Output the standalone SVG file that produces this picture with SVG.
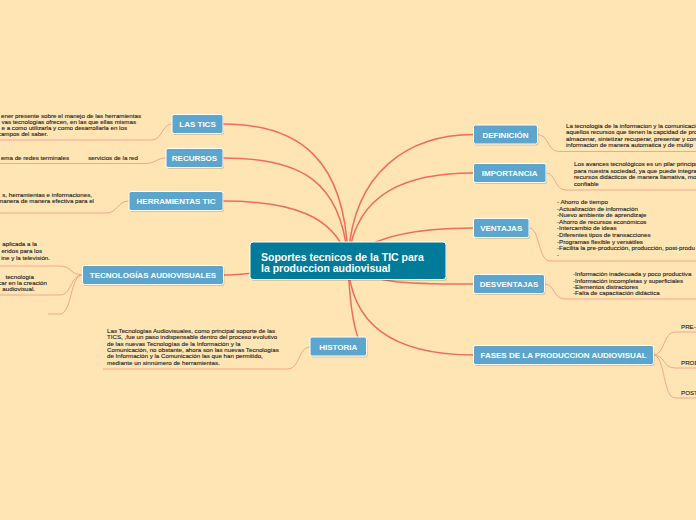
<svg xmlns="http://www.w3.org/2000/svg" width="696" height="520" viewBox="0 0 696 520">
<defs>
<style>
.main{fill:none;stroke:#F26B5B;stroke-width:1.5}
.sub{fill:none;stroke:#F6A48C;stroke-width:1}
.box{fill:#5CA5CD;stroke:#FFFFFF;stroke-width:1}
.shd{fill:#000000;opacity:0.15}
.lbl{font-family:"Liberation Sans",Arial,sans-serif;font-size:8px;font-weight:bold;fill:#FFFFFF;text-anchor:middle}
.txt{font-family:"Liberation Sans",Arial,sans-serif;font-size:6.2px;fill:#222222;stroke:#222222;stroke-width:0.12}
.end{text-anchor:end}
.ctr{font-family:"Liberation Sans",Arial,sans-serif;font-size:10.5px;font-weight:bold;fill:#FFFFFF}
</style>
</defs>
<rect width="696" height="520" fill="#FFE5B4"/>
<g id="connectors">
<path class="main" d="M348,261 C346,160 300,124 223,124"/>
<path class="main" d="M348,261 C342,180 300,158 223,158"/>
<path class="main" d="M348,261 C336,215 290,201 223,201"/>
<path class="main" d="M348,261 C300,265 260,275 223,275"/>
<path class="main" d="M348,261 C350,320 358,347 366,347"/>
<path class="main" d="M348,261 C352,170 410,134.5 474,134.5"/>
<path class="main" d="M348,261 C355,190 410,173 474,173"/>
<path class="main" d="M348,261 C370,235 420,228 474,228"/>
<path class="main" d="M348,261 C360,285 420,284 474,284"/>
<path class="main" d="M348,261 C350,330 400,355 474,355"/>
<path class="sub" d="M172,124 C162,124 162,140 152,140 L0,140"/>
<path class="sub" d="M166,158 C156,158 156,163.5 146,163.5 L0,163.5"/>
<path class="sub" d="M129,201 C117,201 118,213 106,213 L0,213"/>
<path class="sub" d="M82.5,275 C70,275 72,266 60,266 L0,266"/>
<path class="sub" d="M82.5,275 C70,275 72,295 60,295 L0,295"/>
<path class="sub" d="M82.5,275 C70,275 72,314 60,314 L48,314"/>
<path class="sub" d="M310,347 C298,347 300,369 288,369 L103,369"/>
<path class="sub" d="M537.5,134.5 C549,134.5 547,151.5 559,151.5 L696,151.5"/>
<path class="sub" d="M546,173 C556,173 554,190 566,190 L696,190"/>
<path class="sub" d="M529,228 C540,228 538,261 550,261 L696,261"/>
<path class="sub" d="M544.5,284 C555,284 553,299 565,299 L696,299"/>
<path class="sub" d="M653.5,355 C665,355 663,332 675,332 L696,332"/>
<path class="sub" d="M653.5,355 C665,355 663,368 675,368 L696,368"/>
<path class="sub" d="M653.5,355 C665,355 663,398 675,398 L696,398"/>
</g>
<g id="central">
<rect class="shd" x="251" y="243.5" width="196" height="37.5" rx="3"/>
<rect x="250" y="242" width="196" height="37.5" rx="3" fill="#027B9A" stroke="#FFFFFF" stroke-width="1"/>
<text class="ctr" x="261" y="260.5">Soportes tecnicos de la TIC para</text>
<text class="ctr" x="261" y="272">la produccion audiovisual</text>
</g>
<g id="las-tics">
<rect class="shd" x="173" y="116" width="51" height="19" rx="2"/>
<rect class="box" x="172" y="114.5" width="51" height="19" rx="2"/>
<text class="lbl" x="197.5" y="127">LAS TICS</text>
<text class="txt end" x="141" y="117.5">ener presente sobre el manejo de las herramientas</text>
<text class="txt end" x="136" y="123.8">vas tecnologias ofrecen, en las que ellas mismas</text>
<text class="txt end" x="127" y="130.1">e a como utilizarla y como desarrollarla en los</text>
<text class="txt end" x="48" y="136.4">campos del saber.</text>
</g>
<g id="recursos">
<rect class="shd" x="167" y="150" width="57" height="19" rx="2"/>
<rect class="box" x="166" y="148.5" width="57" height="19" rx="2"/>
<text class="lbl" x="194.5" y="161">RECURSOS</text>
<text class="txt end" x="69" y="160">ema de redes terminales</text>
<text class="txt end" x="138" y="160">servicios de la red</text>
</g>
<g id="herramientas">
<rect class="shd" x="130" y="193" width="94" height="19" rx="2"/>
<rect class="box" x="129" y="191.5" width="94" height="19" rx="2"/>
<text class="lbl" x="176" y="204">HERRAMIENTAS TIC</text>
<text class="txt end" x="92" y="197">s, herramientas e informaciones,</text>
<text class="txt end" x="94" y="203.3">manera de manera efectiva para el</text>
</g>
<g id="tecnologias">
<rect class="shd" x="83.5" y="267" width="141" height="19" rx="2"/>
<rect class="box" x="82.5" y="265.5" width="141" height="19" rx="2"/>
<text class="lbl" x="153" y="278">TECNOLOGÍAS AUDIOVISUALES</text>
<text class="txt end" x="37" y="246">aplicada a la</text>
<text class="txt end" x="42" y="252.5">eridos para los</text>
<text class="txt end" x="50" y="259.5">ine y la televisión.</text>
<text class="txt end" x="34" y="278.5">tecnología</text>
<text class="txt end" x="47" y="284.5">car en la creación</text>
<text class="txt end" x="35" y="290.5">audiovisual.</text>
</g>
<g id="historia">
<rect class="shd" x="311" y="338.5" width="56.5" height="19" rx="2"/>
<rect class="box" x="310" y="337" width="56.5" height="19" rx="2"/>
<text class="lbl" x="338.2" y="349.5">HISTORIA</text>
<text class="txt" x="107" y="333">Las Tecnologías Audiovisuales, como principal soporte de las</text>
<text class="txt" x="107" y="339.3">TICS, ,fue un paso indispensable dentro del proceso evolutivo</text>
<text class="txt" x="107" y="345.6">de las nuevas Tecnologías de la Información y la</text>
<text class="txt" x="107" y="351.9">Comunicación, no obstante, ahora son las nuevas Tecnologías</text>
<text class="txt" x="107" y="358.2">de Información y la Comunicación las que han permitido,</text>
<text class="txt" x="107" y="364.5">mediante un sinnúmero de herramientas.</text>
</g>
<g id="definicion">
<rect class="shd" x="474.5" y="126.5" width="64" height="19" rx="2"/>
<rect class="box" x="473.5" y="125" width="64" height="19" rx="2"/>
<text class="lbl" x="505.5" y="137.5">DEFINICIÓN</text>
<text class="txt" x="566" y="127.5">La tecnologia de la informacion y la comunicacion</text>
<text class="txt" x="566" y="134">aquellos recursos que tienen la capcidad de proc</text>
<text class="txt" x="566" y="140.5">almacenar, sintetizar recuperar, presentar y com</text>
<text class="txt" x="566" y="147">informacion de manera automatica y de multip</text>
</g>
<g id="importancia">
<rect class="shd" x="474.5" y="165" width="72.5" height="19" rx="2"/>
<rect class="box" x="473.5" y="163.5" width="72.5" height="19" rx="2"/>
<text class="lbl" x="509.7" y="176">IMPORTANCIA</text>
<text class="txt" x="574" y="166">Los avances tecnológicos es un pilar principa</text>
<text class="txt" x="574" y="172.5">para nuestra sociedad, ya que puede integra</text>
<text class="txt" x="574" y="179">recursos didácticos de manera llamativa, mo</text>
<text class="txt" x="574" y="185.5">confiable</text>
</g>
<g id="ventajas">
<rect class="shd" x="474.5" y="220" width="55.5" height="19" rx="2"/>
<rect class="box" x="473.5" y="218.5" width="55.5" height="19" rx="2"/>
<text class="lbl" x="501.2" y="231">VENTAJAS</text>
<text class="txt" x="557" y="204">- Ahorro de tiempo</text>
<text class="txt" x="557" y="210.6">-Actualización de información</text>
<text class="txt" x="557" y="217.2">-Nuevo ambiente de aprendizaje</text>
<text class="txt" x="557" y="223.8">-Ahorro de recursos económicos</text>
<text class="txt" x="557" y="230.4">-Intercambio de ideas</text>
<text class="txt" x="557" y="237">-Diferentes tipos de transacciones</text>
<text class="txt" x="557" y="243.6">-Programas flexible y versátiles</text>
<text class="txt" x="557" y="250.2">-Facilita la pre-producción, producción, post-produ</text>
<text class="txt" x="557" y="256.8">-</text>
</g>
<g id="desventajas">
<rect class="shd" x="474.5" y="276" width="71" height="19" rx="2"/>
<rect class="box" x="473.5" y="274.5" width="71" height="19" rx="2"/>
<text class="lbl" x="509" y="287">DESVENTAJAS</text>
<text class="txt" x="573" y="276.2">-Información inadecuada y poco productiva</text>
<text class="txt" x="573" y="282.6">-Información incompletas y superficiales</text>
<text class="txt" x="573" y="289">-Elementos distractores</text>
<text class="txt" x="573" y="295.4">-Falta de capacitación didáctica</text>
</g>
<g id="fases">
<rect class="shd" x="474.5" y="347" width="180" height="19" rx="2"/>
<rect class="box" x="473.5" y="345.5" width="180" height="19" rx="2"/>
<text class="lbl" x="563.5" y="358">FASES DE LA PRODUCCION AUDIOVISUAL</text>
<text class="txt" x="681" y="329">PRE-P</text>
<text class="txt" x="681" y="364.5">PROD</text>
<text class="txt" x="681" y="394.5">POST</text>
</g>
</svg>
